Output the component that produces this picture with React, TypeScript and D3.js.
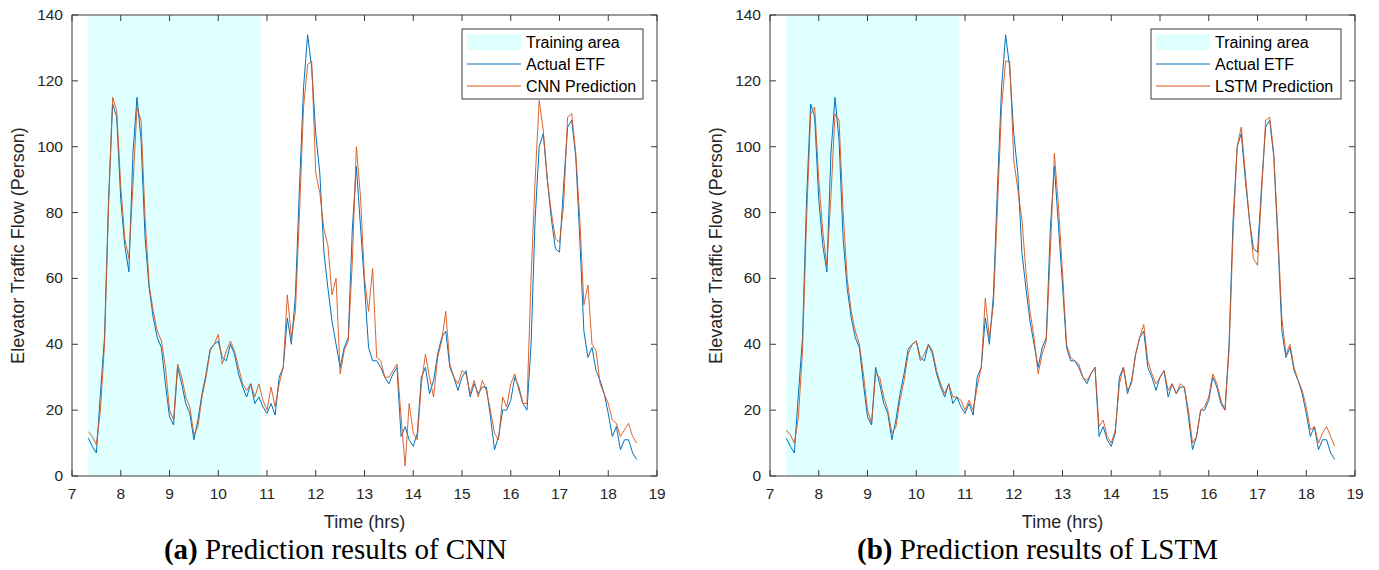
import React from 'react';
import * as d3 from 'd3';

// samples every 5 minutes, starting at 7:20
const START_HOUR = 7 + 20 / 60;
const STEP_HOURS = 5 / 60;

const actualEtf = [
  11.5, 9, 7, 25, 42, 84, 113, 109, 84, 70, 62, 98, 115, 102, 72, 57, 48, 42, 39, 28,
  18, 15.5, 33, 28, 22, 19, 11, 17, 25, 31, 38.5, 40, 41, 36, 35, 40, 37, 31, 27, 24,
  28, 22, 24, 21, 19, 22, 18.5, 30, 33, 48, 40, 55, 88, 118, 134, 124, 104, 92, 68, 57,
  47, 40, 33, 39, 42, 75, 94, 76, 58, 39, 35, 35, 33, 30, 28, 31, 33, 12, 15, 11,
  9, 13, 30, 33, 25, 29, 37, 42, 44, 33, 30, 26, 30, 32, 24, 28, 25, 27, 27, 18,
  8, 12, 20, 20, 23, 30, 27, 22, 20, 40, 78, 100, 104, 90, 78, 69, 68, 88, 106, 108,
  97, 72, 44, 36, 39, 32, 29, 25, 19, 12, 15, 8, 11, 11, 7, 5,
];

const cnnPrediction = [
  13.5, 12, 9.5, 20, 40, 82, 115, 111, 88, 72, 66, 88, 112, 108, 78, 58, 50, 44, 41, 33,
  20, 17, 34, 30, 24, 21, 12.5, 15, 24, 30, 38, 40, 43, 34, 38, 41, 38, 33, 28, 26,
  28, 24, 28, 23, 20, 27, 21, 28, 33, 55, 42, 50, 80, 112, 125, 126, 92, 86, 75, 70,
  55, 60, 31, 38, 41, 65, 100, 85, 60, 50, 63, 36, 35, 30, 30, 32, 34, 18, 3, 22,
  13, 11, 28, 37, 30, 24, 36, 41, 50, 34, 30, 28, 32, 31, 25, 29, 24, 29, 26, 20,
  13, 11, 24, 21, 28, 31, 26, 22, 22, 60, 90, 114, 105, 90, 80, 72, 71, 82, 109, 110,
  98, 78, 52, 58, 40, 38, 28, 25, 22, 17, 16, 12, 14, 16, 12, 10,
];

const lstmPrediction = [
  14, 12.5, 10, 18, 38, 78, 110, 112, 90, 74, 64, 85, 110, 108, 80, 60, 50, 44, 40, 31,
  20, 16, 31, 30, 24, 20, 13, 15, 23, 29, 37, 40, 41, 35, 37, 40, 38, 32, 28, 25,
  28, 24, 24, 23, 20, 23, 20, 27, 33, 54, 42, 52, 82, 112, 126, 126, 96, 87, 78, 62,
  50, 42, 31, 37, 41, 68, 98, 82, 62, 40, 36, 35, 34, 30, 29, 31, 33, 15, 17, 12,
  10, 14, 28, 33, 26, 28, 37, 42, 46, 35, 31, 28, 30, 32, 26, 28, 25, 28, 27, 20,
  10, 12, 20, 21, 24, 31, 28, 23, 20, 38, 74, 100, 106, 92, 78, 66, 64, 86, 108, 109,
  98, 74, 48, 37, 40, 33, 29, 26, 21, 14, 15, 10, 13, 15, 12, 9,
];

const trainingArea = [7.335, 10.88];
const xTicks = [7, 8, 9, 10, 11, 12, 13, 14, 15, 16, 17, 18, 19];
const yTicks = [0, 20, 40, 60, 80, 100, 120, 140];

const BLUE = '#0072BD';
const ORANGE = '#D95319';
const AXIS = '#3a3a3a';
const FONT = '"Liberation Sans", Arial, Helvetica, sans-serif';

type PanelProps = {
  left: number;
  prediction: number[];
  predLabel: string;
  legendWidth: number;
  tag: string;
  caption: string;
  captionShift: number;
};

const Panel = ({ left, prediction, predLabel, legendWidth, tag, caption, captionShift }: PanelProps) => {
  const top = 15;
  const width = 585;
  const height = 461;
  const x = d3.scaleLinear().domain([7, 19]).range([0, width]);
  const y = d3.scaleLinear().domain([0, 140]).range([height, 0]);
  const hours = actualEtf.map((_, i) => START_HOUR + i * STEP_HOURS);
  const line = d3
    .line<number>()
    .x((_, i) => x(hours[i]))
    .y((d) => y(d));
  const tickLen = 6;

  return (
    <g transform={`translate(${left},${top})`} fontFamily={FONT}>
      <rect
        x={x(trainingArea[0])}
        y={0}
        width={x(trainingArea[1]) - x(trainingArea[0])}
        height={height}
        fill="#E0FFFF"
      />
      <path d={line(actualEtf) || ''} fill="none" stroke={BLUE} strokeWidth={1} />
      <path d={line(prediction) || ''} fill="none" stroke={ORANGE} strokeWidth={1} strokeOpacity={0.9} />

      {/* box and ticks */}
      <rect x={0} y={0} width={width} height={height} fill="none" stroke={AXIS} strokeWidth={1} />
      {xTicks.map((t) => (
        <g key={'x' + t}>
          <line x1={x(t)} x2={x(t)} y1={height} y2={height - tickLen} stroke={AXIS} />
          <line x1={x(t)} x2={x(t)} y1={0} y2={tickLen} stroke={AXIS} />
          <text x={x(t)} y={height + 23} textAnchor="middle" fontSize={15.5} fill="#262626">
            {t}
          </text>
        </g>
      ))}
      {yTicks.map((t) => (
        <g key={'y' + t}>
          <line x1={0} x2={tickLen} y1={y(t)} y2={y(t)} stroke={AXIS} />
          <line x1={width} x2={width - tickLen} y1={y(t)} y2={y(t)} stroke={AXIS} />
          <text x={-9} y={y(t) + 5} textAnchor="end" fontSize={15.5} fill="#262626">
            {t}
          </text>
        </g>
      ))}

      <text x={width / 2} y={height + 52} textAnchor="middle" fontSize={18} fill="#262626">
        Time (hrs)
      </text>
      <text
        transform={`translate(${-48},${height / 2}) rotate(-90)`}
        textAnchor="middle"
        fontSize={18}
        fill="#262626"
      >
        Elevator Traffic Flow (Person)
      </text>

      {/* legend */}
      <g transform={`translate(${width - 14 - legendWidth},${14})`}>
        <rect x={0} y={0} width={legendWidth} height={70} fill="#fff" stroke={AXIS} />
        <rect x={5} y={5} width={54} height={16} fill="#E0FFFF" />
        <line x1={5} x2={59} y1={35} y2={35} stroke={BLUE} />
        <line x1={5} x2={59} y1={57} y2={57} stroke={ORANGE} />
        <text x={64} y={19} fontSize={16} fill="#000">Training area</text>
        <text x={64} y={41} fontSize={16} fill="#000">Actual ETF</text>
        <text x={64} y={63} fontSize={16} fill="#000">{predLabel}</text>
      </g>

      <text
        x={width / 2 + captionShift}
        y={height + 83}
        textAnchor="middle"
        fontSize={29}
        fontFamily='"Liberation Serif", "Times New Roman", serif'
        fill="#000"
      >
        <tspan fontWeight="bold">{tag}</tspan>
        {' ' + caption}
      </text>
    </g>
  );
};

const App = () => (
  <svg
    width={1379}
    height={570}
    style={{ position: 'absolute', left: 0, top: 0, background: '#fff' }}
  >
    <Panel
      left={72}
      prediction={cnnPrediction}
      predLabel="CNN Prediction"
      legendWidth={181}
      tag="(a)"
      caption="Prediction results of CNN"
      captionShift={-29}
    />
    <Panel
      left={770}
      prediction={lstmPrediction}
      predLabel="LSTM Prediction"
      legendWidth={190}
      tag="(b)"
      caption="Prediction results of LSTM"
      captionShift={-25}
    />
  </svg>
);

export default App;
